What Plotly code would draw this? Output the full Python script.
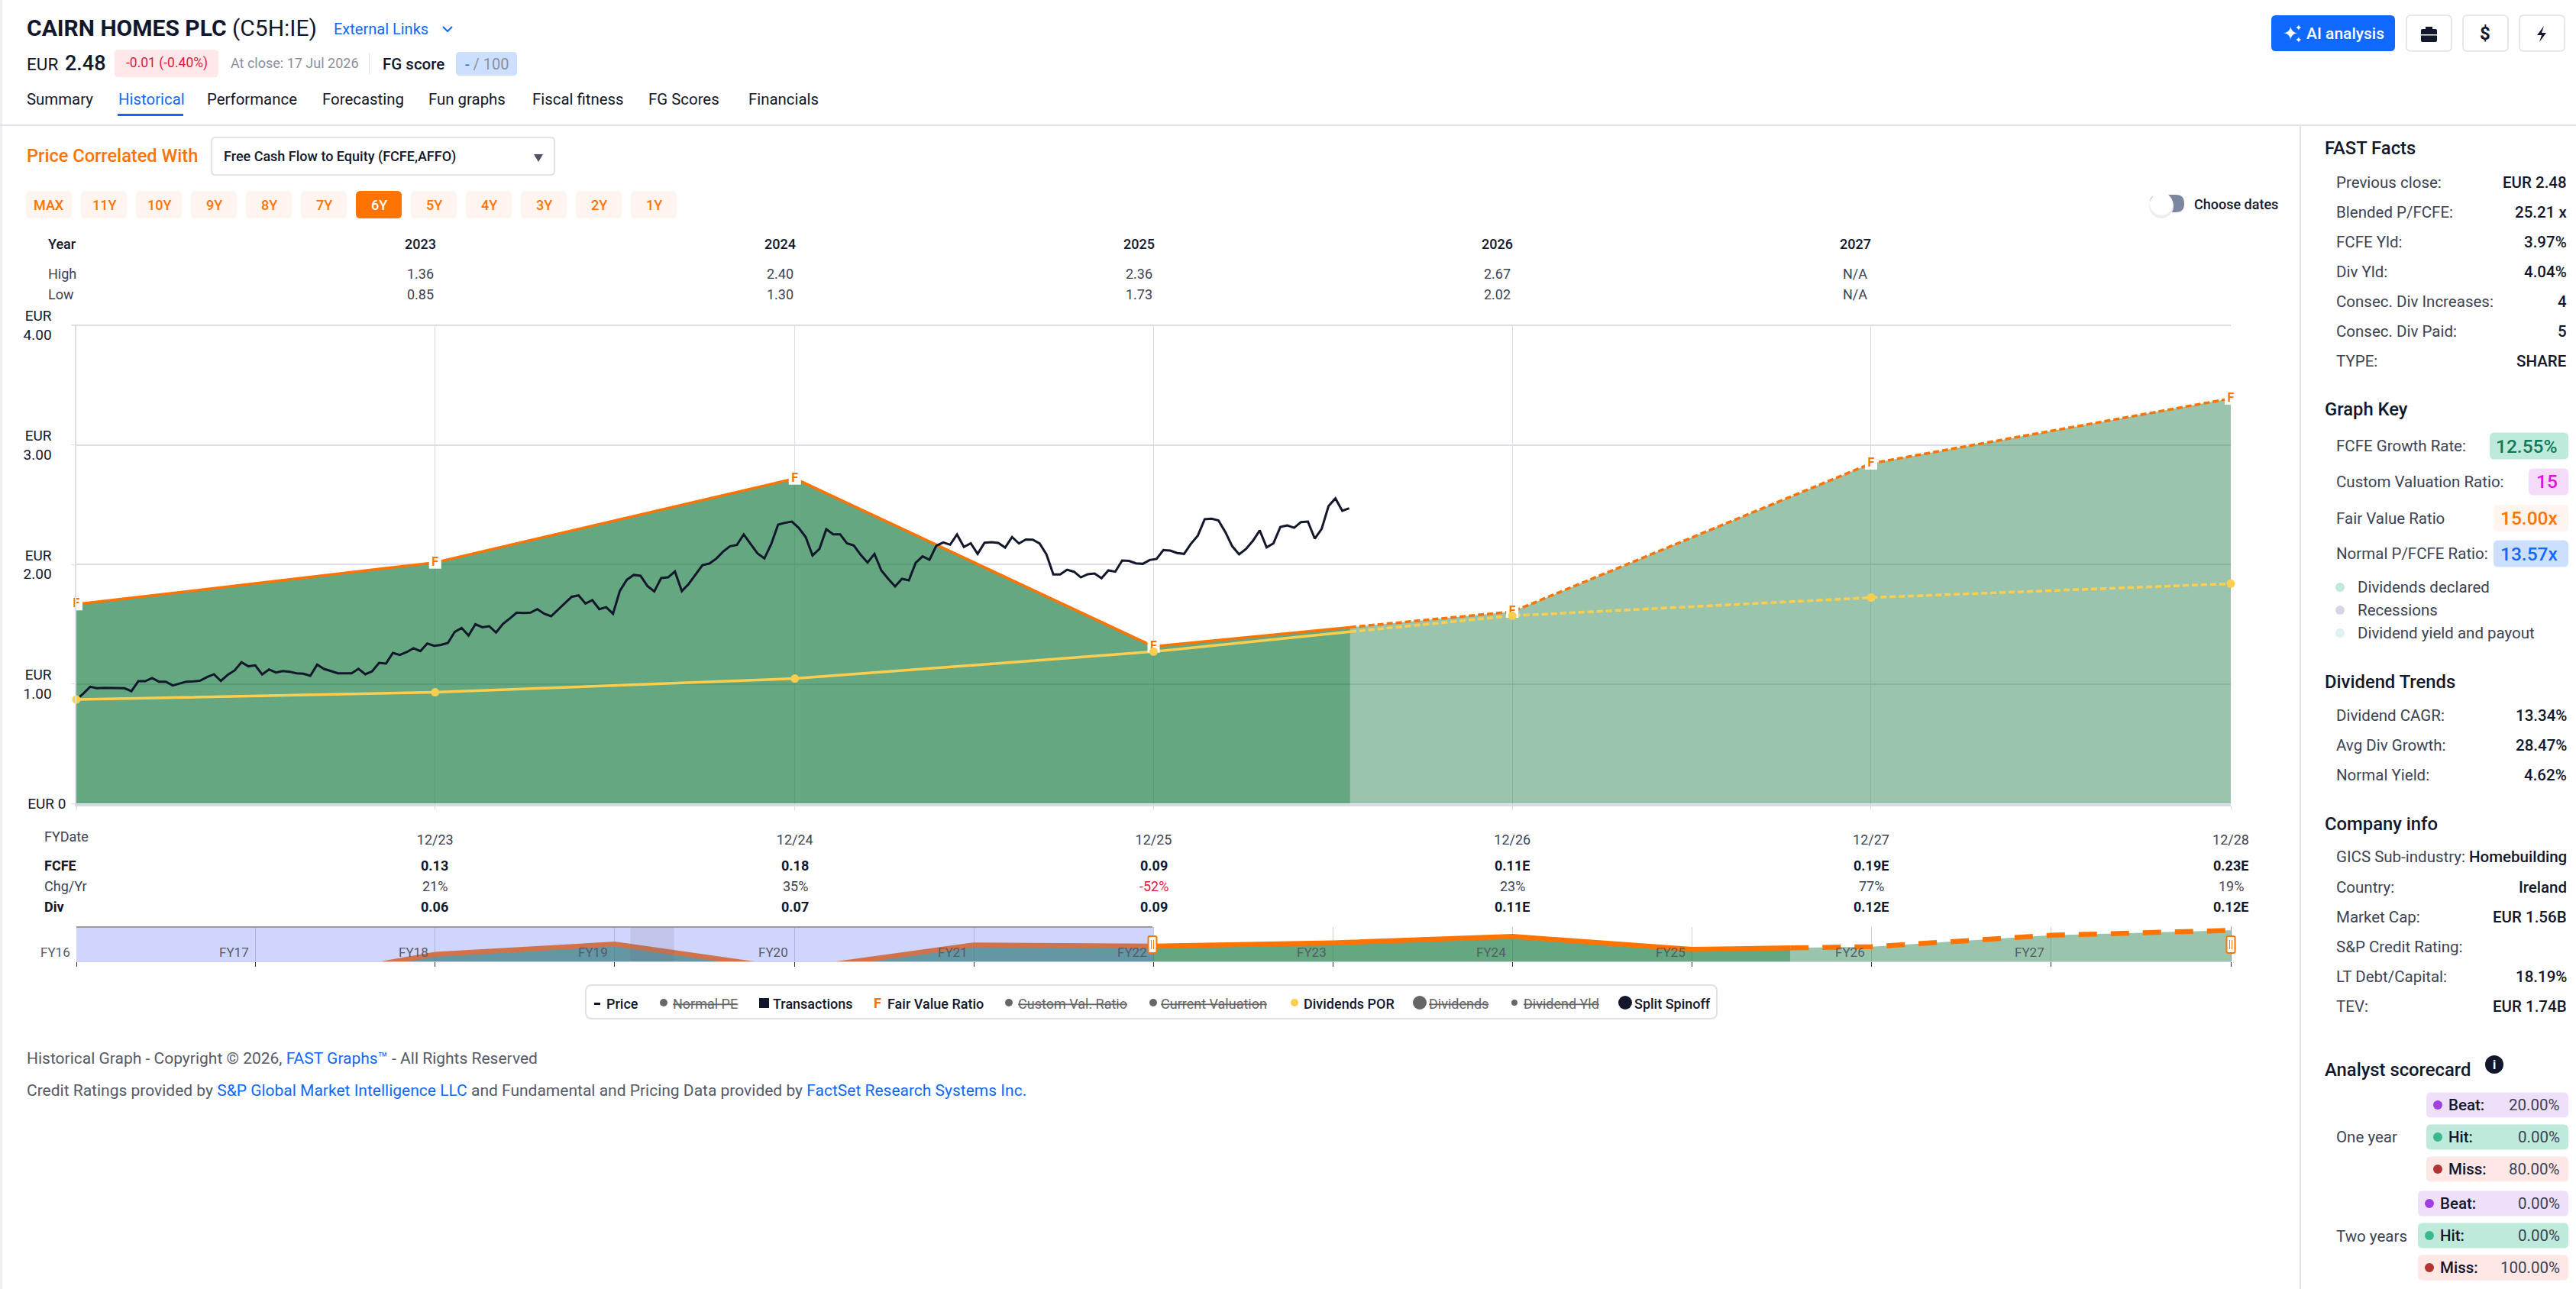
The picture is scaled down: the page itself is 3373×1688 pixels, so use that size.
import pandas as pd
import plotly.graph_objects as go

W, H = 3373, 1688

# Weekly closing price (EUR)
price = [
    0.872, 0.921, 0.978, 0.966, 0.970, 0.970, 0.966, 0.966, 0.942, 1.025, 1.025, 1.051, 1.021, 1.021,
    0.989, 1.006, 1.021, 1.023, 1.029, 1.059, 1.083, 1.027, 1.078, 1.115, 1.183, 1.149, 1.157, 1.081,
    1.123, 1.098, 1.110, 1.104, 1.091, 1.087, 1.070, 1.163, 1.127, 1.110, 1.091, 1.091, 1.091, 1.129,
    1.083, 1.108, 1.178, 1.172, 1.261, 1.244, 1.268, 1.300, 1.276, 1.340, 1.321, 1.329, 1.344, 1.438,
    1.470, 1.406, 1.502, 1.476, 1.485, 1.432, 1.504, 1.549, 1.598, 1.595, 1.598, 1.627, 1.589, 1.568,
    1.623, 1.681, 1.731, 1.742, 1.674, 1.702, 1.627, 1.644, 1.589, 1.781, 1.872, 1.913, 1.906, 1.821,
    1.776, 1.887, 1.893, 1.942, 1.778, 1.838, 1.917, 1.995, 2.008, 2.049, 2.108, 2.153, 2.164, 2.251,
    2.172, 2.093, 2.051, 2.172, 2.334, 2.349, 2.359, 2.306, 2.230, 2.076, 2.130, 2.296, 2.253, 2.253,
    2.178, 2.159, 2.081, 2.017, 2.089, 1.951, 1.881, 1.817, 1.881, 1.868, 2.015, 2.068, 2.040, 2.157,
    2.185, 2.166, 2.251, 2.147, 2.178, 2.089, 2.183, 2.187, 2.181, 2.142, 2.230, 2.176, 2.210, 2.208,
    2.176, 2.085, 1.917, 1.917, 1.957, 1.940, 1.893, 1.919, 1.925, 1.885, 1.951, 1.940, 2.034, 2.030,
    2.010, 2.006, 2.038, 2.047, 2.121, 2.117, 2.096, 2.089, 2.174, 2.242, 2.379, 2.383, 2.368, 2.272,
    2.153, 2.085, 2.130, 2.198, 2.285, 2.144, 2.178, 2.315, 2.327, 2.308, 2.355, 2.359, 2.217, 2.298,
    2.489, 2.553, 2.449, 2.470,
]
price_dates = pd.date_range("2022-12-31", periods=len(price), freq="7D")

# Fair value and dividend lines, actual part then estimates
actual_dates = ["2022-12-31", "2023-12-31", "2024-12-31", "2025-12-31", "2026-07-19"]
fair_actual = [1.668, 2.017, 2.719, 1.315, 1.476]
div_actual = [0.872, 0.932, 1.047, 1.272, 1.438]
est_dates = ["2026-07-19", "2026-12-31", "2027-12-31", "2028-12-31"]
fair_est = [1.476, 1.606, 2.845, 3.388]
div_est = [1.438, 1.572, 1.724, 1.840]

year_dates = ["2022-12-31", "2023-12-31", "2024-12-31", "2025-12-31", "2026-12-31", "2027-12-31", "2028-12-31"]
fair_year = [1.668, 2.017, 2.719, 1.315, 1.606, 2.845, 3.388]
div_year = [0.872, 0.932, 1.047, 1.272, 1.572, 1.724, 1.840]

# Navigator (older years below the visible floor)
nav_early_dates = ["2016-12-31", "2017-12-31", "2018-12-31", "2019-12-31", "2020-12-31", "2021-12-31"]
nav_early_fair = [-2.7, -2.7, 0.78, 1.89, -0.9, 1.80]
nav_ticks = ["2016-12-31", "2017-12-31", "2018-12-31", "2019-12-31", "2020-12-31", "2021-12-31", "2022-12-31",
             "2023-12-31", "2024-12-31", "2025-12-31", "2026-12-31", "2027-12-31", "2028-12-31"]
nav_labels = ["FY16", "FY17", "FY18", "FY19", "FY20", "FY21", "FY22", "FY23", "FY24", "FY25", "FY26", "FY27"]

y_ticks = [0, 1, 2, 3, 4]
pad = "\u00a0" * 4
y_labels = ["EUR 0", "EUR" + pad + "<br>1.00" + pad, "EUR" + pad + "<br>2.00" + pad,
            "EUR" + pad + "<br>3.00" + pad, "EUR" + pad + "<br>4.00" + pad]
x_labels = ["", "12/23", "12/24", "12/25", "12/26", "12/27", "12/28"]

# Tables above and below the chart
years = ["2023", "2024", "2025", "2026", "2027"]
highs = ["1.36", "2.40", "2.36", "2.67", "N/A"]
lows = ["0.85", "1.30", "1.73", "2.02", "N/A"]
fcfe = ["0.13", "0.18", "0.09", "0.11E", "0.19E", "0.23E"]
chg = ["21%", "35%", "-52%", "23%", "77%", "19%"]
div = ["0.06", "0.07", "0.09", "0.11E", "0.12E", "0.12E"]

tabs = ["Summary", "Historical", "Performance", "Forecasting", "Fun graphs", "Fiscal fitness", "FG Scores", "Financials"]
ranges = ["MAX", "11Y", "10Y", "9Y", "8Y", "7Y", "6Y", "5Y", "4Y", "3Y", "2Y", "1Y"]

fast_facts = [("Previous close:", "EUR 2.48"), ("Blended P/FCFE:", "25.21 x"), ("FCFE Yld:", "3.97%"),
              ("Div Yld:", "4.04%"), ("Consec. Div Increases:", "4"), ("Consec. Div Paid:", "5"), ("TYPE:", "SHARE")]
div_trends = [("Dividend CAGR:", "13.34%"), ("Avg Div Growth:", "28.47%"), ("Normal Yield:", "4.62%")]
company = [("GICS Sub-industry:", "Homebuilding"), ("Country:", "Ireland"), ("Market Cap:", "EUR 1.56B"),
           ("S&P Credit Rating:", ""), ("LT Debt/Capital:", "18.19%"), ("TEV:", "EUR 1.74B")]

DARK = "#12172b"
TEXT = "#3c4254"
GREY = "#8a8f9c"
ORANGE = "#ff7300"
YELLOW = "#ffce4f"
BLUE = "#1069fe"
GRID = "#dcdde8"
GREEN_DARK = "rgba(24,124,66,0.67)"
GREEN_LIGHT = "rgba(24,124,66,0.44)"

fig = go.Figure()

# Main chart
fig.add_trace(go.Scatter(x=actual_dates, y=fair_actual, mode="lines", fill="tozeroy", fillcolor=GREEN_DARK,
                         line=dict(color=ORANGE, width=3.5)))
fig.add_trace(go.Scatter(x=est_dates, y=fair_est, mode="lines", fill="tozeroy", fillcolor=GREEN_LIGHT,
                         line=dict(color=ORANGE, width=3.5, dash="8px,4px")))
fig.add_trace(go.Scatter(x=actual_dates, y=div_actual, mode="lines", line=dict(color=YELLOW, width=3.5)))
fig.add_trace(go.Scatter(x=est_dates, y=div_est, mode="lines", line=dict(color=YELLOW, width=3.5, dash="8px,4px")))
fig.add_trace(go.Scatter(x=price_dates, y=price, mode="lines", line=dict(color="#12172b", width=3)))
fig.add_trace(go.Scatter(x=year_dates, y=fair_year, mode="markers+text", text=["F"] * len(year_dates),
                         textposition="middle center", textfont=dict(color=ORANGE, size=16, weight=700),
                         marker=dict(symbol="square", size=16, color="white"), cliponaxis=False))
fig.add_trace(go.Scatter(x=year_dates, y=div_year, mode="markers", marker=dict(size=11, color=YELLOW), cliponaxis=False))

# Navigator
nav_dates_actual = nav_early_dates + actual_dates
nav_fair_actual = nav_early_fair + fair_actual
fig.add_trace(go.Scatter(x=nav_dates_actual, y=nav_fair_actual, xaxis="x2", yaxis="y2", mode="lines", fill="tozeroy",
                         fillcolor=GREEN_DARK, line=dict(color=ORANGE, width=6.5)))
fig.add_trace(go.Scatter(x=est_dates, y=fair_est, xaxis="x2", yaxis="y2", mode="lines", fill="tozeroy",
                         fillcolor=GREEN_LIGHT, line=dict(color=ORANGE, width=6.5, dash="24px,18px")))

shapes = []
annotations = []


def px(x):
    return x / W


def py(y):
    return 1 - y / H


def label(x, y, text, size=20, color=TEXT, anchor="left", weight=400, family="Roboto"):
    annotations.append(dict(x=px(x), y=py(y), xref="paper", yref="paper", text=text, showarrow=False,
                            xanchor=anchor, yanchor="middle", borderpad=0,
                            font=dict(size=size, color=color, weight=weight, family=family)))


def rect(x0, y0, x1, y1, fill="rgba(0,0,0,0)", line=None, width=1.5, r=0):
    # r is the corner radius in pixels
    if r:
        path = (f"M {px(x0 + r)} {py(y0)} L {px(x1 - r)} {py(y0)} Q {px(x1)} {py(y0)} {px(x1)} {py(y0 + r)} "
                f"L {px(x1)} {py(y1 - r)} Q {px(x1)} {py(y1)} {px(x1 - r)} {py(y1)} "
                f"L {px(x0 + r)} {py(y1)} Q {px(x0)} {py(y1)} {px(x0)} {py(y1 - r)} "
                f"L {px(x0)} {py(y0 + r)} Q {px(x0)} {py(y0)} {px(x0 + r)} {py(y0)} Z")
        shapes.append(dict(type="path", path=path, xref="paper", yref="paper", fillcolor=fill,
                           line=dict(color=line or fill, width=width if line else 0)))
    else:
        shapes.append(dict(type="rect", x0=px(x0), x1=px(x1), y0=py(y0), y1=py(y1), xref="paper", yref="paper",
                           fillcolor=fill, line=dict(color=line or fill, width=width if line else 0)))


def dot(x, y, r, fill):
    shapes.append(dict(type="circle", x0=px(x - r), x1=px(x + r), y0=py(y - r), y1=py(y + r), xref="paper",
                       yref="paper", fillcolor=fill, line=dict(width=0)))


def poly(points, fill=None, line=None, width=2):
    path = "M " + " L ".join(f"{px(a)} {py(b)}" for a, b in points)
    if fill:
        path += " Z"
    shapes.append(dict(type="path", path=path, xref="paper", yref="paper", fillcolor=fill or "rgba(0,0,0,0)",
                       line=dict(color=line or fill, width=width if line else 0)))


# Page frame
rect(0, 0, 3, H, fill="#eceef4")
rect(0, 163, W, 165, fill="#dfe1ea")
rect(3011, 164, 3013, H, fill="#dfe1ea")

# Chart top border, the axis drops the grid line at the range end
rect(94, 425, 2921, 427, fill=GRID)

# Header
label(34, 37, "<b>CAIRN HOMES PLC</b> (C5H:IE)", size=30, color=DARK)
label(436, 38, "External Links", size=20, color=BLUE)
poly([(580, 35), (586, 41), (592, 35)], line=BLUE, width=2)
label(34, 84, "EUR", size=22.5, color=DARK)
label(84, 83, "2.48", size=27, color=DARK, weight=500)
rect(150, 65, 286, 101, fill="#ffe7ea", r=5)
label(218, 83, "-0.01 (-0.40%)", size=17.5, color="#e5173f", anchor="center")
label(301, 83, "At close: 17 Jul 2026", size=18, color=GREY)
rect(483, 70, 484, 97, fill="#dfe1ea")
label(500, 84, "FG score", size=20.5, color=DARK, weight=500)
rect(597, 68, 677, 99, fill="#ccdfff", r=5)
label(637, 84, f"<span style='color:{BLUE}'>-</span> / 100", size=20, color=GREY, anchor="center")

tab_x = [34, 154, 270, 421, 560, 696, 848, 979]
for name, x in zip(tabs, tab_x):
    label(x, 130, name, size=20.4, color=BLUE if name == "Historical" else DARK)
rect(154, 149, 240, 152, fill=BLUE)

# Selector row
label(34, 204, "Price Correlated With", size=23.6, color=ORANGE, weight=500)
rect(277, 180, 726, 229, fill="white", line="#d8dbe6", r=5)
label(292, 205, "Free Cash Flow to Equity (FCFE,AFFO)", size=18, color=DARK, weight=500)
poly([(699, 202), (711, 202), (705, 212)], fill="#4d5366")

for i, name in enumerate(ranges):
    x0 = 34 + 72 * i
    on = name == "6Y"
    rect(x0, 250, x0 + 60, 286, fill=ORANGE if on else "#fff5ee", r=6)
    label(x0 + 30, 268, name, size=18, color="white" if on else ORANGE, anchor="center", weight=500)

rect(2815, 255, 2860, 278, fill="#7c86a0", r=11)
dot(2830, 270, 16, "#eceef3")
dot(2830, 267, 15, "white")
label(2872, 267, "Choose dates", size=18, color=DARK, weight=500)

# Year table
year_x = [550, 1021, 1491, 1960, 2429]
label(62, 320, "Year", size=18, color=DARK, weight=500)
label(62, 358, "High", size=18)
label(62, 385, "Low", size=18)
for x, a, b, c in zip(year_x, years, highs, lows):
    label(x, 320, a, size=18, color=DARK, anchor="center", weight=500)
    label(x, 358, b, size=18, anchor="center")
    label(x, 385, c, size=18, anchor="center")

# Fiscal table
fy_x = [569, 1041, 1511, 1980, 2450, 2921]
label(57, 1095, "FYDate", size=18)
label(57, 1133, "FCFE", size=18, color=DARK, weight=700)
label(57, 1160, "Chg/Yr", size=18)
label(57, 1187, "Div", size=18, color=DARK, weight=700)
for x, a, b, c in zip(fy_x, fcfe, chg, div):
    label(x, 1133, a, size=18, color=DARK, anchor="center", weight=700)
    label(x, 1160, b, size=18, color="#e5173f" if b.startswith("-") else TEXT, anchor="center")
    label(x, 1187, c, size=18, color=DARK, anchor="center", weight=700)

# Navigator mask, recession band and handles
shapes.append(dict(type="rect", xref="x2", yref="paper", x0="2016-12-31", x1="2022-12-31", y0=py(1259), y1=py(1214),
                   fillcolor="rgba(100,115,250,0.3)", line=dict(width=0)))
shapes.append(dict(type="rect", xref="x2", yref="paper", x0="2020-02-01", x1="2020-04-30", y0=py(1259), y1=py(1214),
                   fillcolor="rgba(110,110,120,0.15)", line=dict(width=0)))
rect(100, 1213, 1509, 1215, fill="#999999")
rect(2921, 1213, 2922, 1259, fill="#999999")
for hx in (1509, 2921):
    rect(hx - 5.5, 1226, hx + 5.5, 1248, fill="white", line=ORANGE, width=2, r=2)
    rect(hx - 2, 1231, hx - 1, 1243, fill=ORANGE)
    rect(hx + 1, 1231, hx + 2, 1243, fill=ORANGE)
for d, name in zip(nav_ticks, nav_labels):
    annotations.append(dict(x=d, y=py(1247), xref="x2", yref="paper", text=name, showarrow=False, xshift=-28,
                            yanchor="middle", font=dict(size=17, color="#555a68")))

# Legend pill
rect(767, 1290, 2248, 1334, fill="white", line="#dfe1ea", width=2, r=8)
rect(778, 1313, 786, 1316, fill=DARK)
label(793, 1314, "Price", size=18, color=DARK, weight=500)
dot(869, 1313, 5, "#666666")
label(880, 1314, "<s>Normal PE</s>", size=18, color="#666666")
rect(994, 1307, 1007, 1320, fill=DARK)
label(1011, 1314, "Transactions", size=18, color=DARK, weight=500)
label(1143, 1313, "F", size=18, color=ORANGE, weight=700)
label(1161, 1314, "Fair Value Ratio", size=18, color=DARK, weight=500)
dot(1321, 1313, 5, "#666666")
label(1332, 1314, "<s>Custom Val. Ratio</s>", size=18, color="#666666")
dot(1510, 1313, 5, "#666666")
label(1519, 1314, "<s>Current Valuation</s>", size=18, color="#666666")
dot(1695, 1313, 5, YELLOW)
label(1706, 1314, "Dividends POR", size=18, color=DARK, weight=500)
dot(1859, 1313, 9, "#666666")
label(1870, 1314, "<s>Dividends</s>", size=18, color="#666666")
dot(1983, 1313, 4, "#666666")
label(1994, 1314, "<s>Dividend Yld</s>", size=18, color="#666666")
dot(2128, 1313, 9, DARK)
label(2139, 1314, "Split Spinoff", size=18, color=DARK, weight=500)

# Footer
link = f"color:{BLUE}"
label(34, 1386, f"Historical Graph - Copyright © 2026, <span style='{link}'>FAST Graphs™</span> - All Rights Reserved",
      size=21, color="#555a68")
label(34, 1428, f"Credit Ratings provided by <span style='{link}'>S&P Global Market Intelligence LLC</span> and "
      f"Fundamental and Pricing Data provided by <span style='{link}'>FactSet Research Systems Inc.</span>",
      size=21, color="#555a68")

# Top right buttons
rect(2974, 20, 3136, 67, fill=BLUE, r=6)
label(2999, 44, "✦", size=24, color="white", anchor="center", family="DejaVu Sans")
label(3009, 36, "✦", size=11, color="white", anchor="center", family="DejaVu Sans")
label(3009, 52, "✦", size=11, color="white", anchor="center", family="DejaVu Sans")
label(3019, 44, "AI analysis", size=21, color="white", weight=500)
for x0 in (3151, 3225, 3299):
    rect(x0, 20, x0 + 59, 67, fill="white", line="#dfe1ea", r=6)
rect(3170, 38, 3191, 55, fill=DARK, r=2)
rect(3176, 35, 3185, 38, fill=DARK)
rect(3170, 45, 3191, 46.5, fill="white")
label(3254, 44, "$", size=24, color=DARK, anchor="center", weight=700)
poly([(3331, 34), (3322, 46), (3328, 46), (3325, 55), (3334, 43), (3328, 43)], fill=DARK)


# Right panel
def rows(items, ys):
    for (name, value), y in zip(items, ys):
        label(3058, y, name, size=20.5)
        if value:
            label(3362, y, value, size=20.5, color=DARK, anchor="right", weight=500)


label(3043, 194, "FAST Facts", size=23.8, color=DARK, weight=500)
rows(fast_facts, [238.6, 277.6, 316.5, 355.5, 395, 434, 473])

label(3043, 536.5, "Graph Key", size=23.8, color=DARK, weight=500)
key_rows = [("FCFE Growth Rate:", "12.55%", 3260, 584, "#beeadb", "#0e7a5a"),
            ("Custom Valuation Ratio:", "15", 3311, 631, "#f3dbf9", "#e010e0"),
            ("Fair Value Ratio", "15.00x", 3265, 678.6, "#fff5ee", ORANGE),
            ("Normal P/FCFE Ratio:", "13.57x", 3265, 725, "#ccdfff", BLUE)]
for name, value, x0, y, bg, fg in key_rows:
    label(3058, y, name, size=20.5)
    rect(x0, y - 17.5, 3363, y + 17.5, fill=bg, r=6)
    label(3350, y, value, size=24.5, color=fg, anchor="right", weight=500)
for name, y, colour in [("Dividends declared", 769, "#beeadb"), ("Recessions", 799, "#d5d7e3"),
                        ("Dividend yield and payout", 829, "#ddf2f1")]:
    dot(3064, y, 6, colour)
    label(3086, y, name, size=20.5)

label(3043, 893, "Dividend Trends", size=23.8, color=DARK, weight=500)
rows(div_trends, [936.6, 975.6, 1014.7])

label(3043, 1078.6, "Company info", size=23.8, color=DARK, weight=500)
rows(company, [1122.4, 1161.5, 1200.5, 1239.6, 1278.7, 1317.8])

label(3043, 1400.7, "Analyst scorecard", size=23.8, color=DARK, weight=500)
dot(3266, 1394, 12, DARK)
label(3266, 1394, "i", size=16, color="white", anchor="center", weight=700)

label(3058, 1489, "One year", size=20.5)
label(3058, 1618.7, "Two years", size=20.5)
chips = [("Beat:", "20.00%", 3177, 1447, "#eee0fa", "#a040e0"), ("Hit:", "0.00%", 3177, 1489, "#beeadb", "#3cb890"),
         ("Miss:", "80.00%", 3177, 1531, "#ffe7e6", "#b03535"), ("Beat:", "0.00%", 3166, 1576, "#eee0fa", "#a040e0"),
         ("Hit:", "0.00%", 3166, 1618, "#beeadb", "#3cb890"), ("Miss:", "100.00%", 3166, 1660, "#ffe7e6", "#b03535")]
for name, value, x0, y, bg, fg in chips:
    rect(x0, y - 16.5, 3363, y + 16.5, fill=bg, r=6)
    dot(x0 + 15, y, 6, fg)
    label(x0 + 28, y, name, size=20.5, color=DARK, weight=500)
    label(3353, y, value, size=20.5, anchor="right")

fig.update_layout(
    width=W, height=H, margin=dict(l=0, r=0, t=0, b=0, autoexpand=False), showlegend=False,
    paper_bgcolor="white", plot_bgcolor="white", font=dict(family="Roboto", color=DARK),
    shapes=shapes, annotations=annotations,
    xaxis=dict(
        domain=[px(100), px(2921)], type="date", range=["2022-12-31", "2028-12-31"],
        tickmode="array", tickvals=year_dates, ticktext=x_labels, ticks="outside", ticklen=5, tickcolor=GRID,
        ticklabelstandoff=24, tickfont=dict(size=18, color=TEXT), automargin=False,
        showgrid=True, gridcolor=GRID, gridwidth=1.2, showline=True, linecolor="#d8dbe6", linewidth=3,
        zeroline=False,
    ),
    yaxis=dict(
        domain=[py(1052.6), py(426)], range=[0, 4], tickmode="array", tickvals=y_ticks, ticktext=y_labels,
        ticks="outside", ticklen=5, tickcolor=GRID, tickfont=dict(size=19, color=DARK), automargin=False,
        ticklabelstandoff=3, showline=True, linecolor=GRID, linewidth=1.5,
        showgrid=True, gridcolor=GRID, gridwidth=2, zeroline=False,
    ),
    xaxis2=dict(
        domain=[px(100), px(2921)], anchor="y2", type="date", range=["2016-12-31", "2028-12-31"],
        tickmode="array", tickvals=nav_ticks, showticklabels=False, ticks="outside", ticklen=6, tickcolor="#333333",
        showgrid=True, gridcolor="#cfcfd6", gridwidth=1, showline=True, linecolor="#cfd2e0", linewidth=1,
        zeroline=False, automargin=False,
    ),
    yaxis2=dict(domain=[py(1259), py(1214)], anchor="x2", range=[0, 3.75], visible=False),
)

fig.write_html("out.html", config={"displayModeBar": False}, post_script="document.body.style.margin='0';")
